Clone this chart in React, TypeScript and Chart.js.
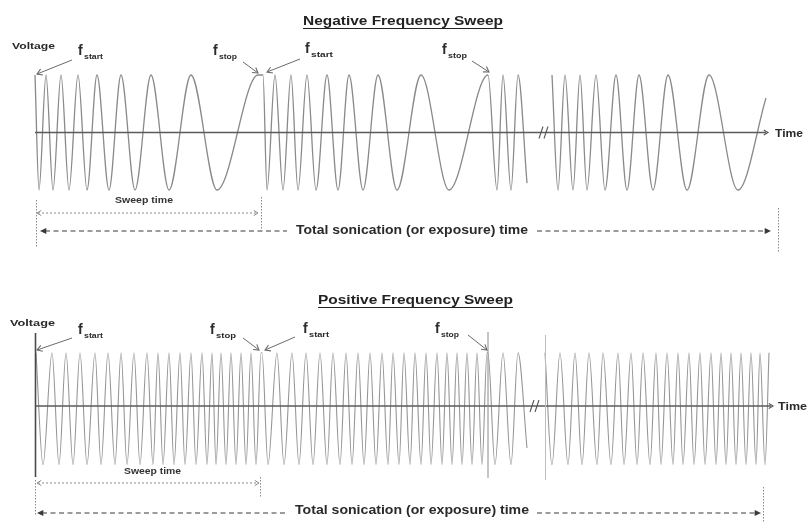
import React, { useEffect, useRef } from "react";
import { Chart, registerables } from "chart.js";
Chart.register(...registerables);

// ---------- DATA (times of successive extrema; each sweep starts with a peak) ----------
// Negative frequency sweep (top panel)
const negSweep1 = [35, 39, 46, 53, 61, 69, 78, 87, 97, 109, 121, 135, 151, 169, 191, 217, 258];
const negSweep2 = [263, 267, 275, 283, 291, 298, 307, 316, 327, 338, 349, 363, 378, 397, 421, 449, 488];
const negSweep3 = [488, 497, 503, 511, 518, 527];
const negSweep4 = [552, 558, 565, 573, 580, 587, 596, 605, 616, 627, 639, 653, 668, 687, 709, 738, 766];
const negPeak = 1;
const negTrough = -1;
const negSweep3End = -0.88; // partial trough where the first break starts
const negSweep4End = 0.6; // last rising edge ends before a full peak

// Positive frequency sweep (bottom panel)
const posSweep1 = [36, 43, 52, 59, 66, 73, 80, 87, 95, 101, 108, 115, 121, 127, 134, 140, 147, 153, 158, 163, 169, 174, 180, 185, 191, 196, 202, 207, 212, 216, 221, 226, 231, 236, 241, 246, 251, 256, 261];
const posSweep2 = [262, 268, 277, 284, 292, 299, 306, 313, 320, 327, 333, 340, 346, 352, 358, 364, 370, 376, 382, 388, 393, 399, 404, 410, 415, 421, 426, 431, 437, 442, 447, 452, 457, 462, 467, 472, 477, 482, 487];
const posSweep3 = [488, 495, 503, 511, 518, 527];
const posSweep4 = [545, 552, 560, 568, 575, 582, 589, 597, 603, 611, 618, 624, 631, 637, 643, 650, 656, 661, 667, 673, 678, 683, 689, 694, 700, 705, 711, 716, 721, 726, 731, 736, 741, 746, 751, 756, 760, 765, 769];
const posPeak = 0.95;
const posTrough = -1.05;
const posSweep3End = -0.75;

// Texts
const titleNeg = "Negative Frequency Sweep";
const titlePos = "Positive Frequency Sweep";
const totalLabel = "Total sonication (or exposure) time";
const sweepLabel = "Sweep time";
const voltageLabel = "Voltage";
const timeLabel = "Time";

// ---------- helpers ----------
type Pt = { x: number; y: number };

function sweepPoints(times: number[], peak: number, trough: number, endLevel?: number): Pt[] {
  return times.map((t, i) => ({
    x: t,
    y: i === times.length - 1 && endLevel !== undefined ? endLevel : i % 2 === 0 ? peak : trough,
  }));
}

function joinSweeps(...parts: Pt[][]): Pt[] {
  const out: Pt[] = [];
  parts.forEach((p) =>
    p.forEach((pt) => {
      if (out.length && out[out.length - 1].x === pt.x) return;
      out.push(pt);
    })
  );
  return out;
}

const FONT = "'Liberation Sans', Arial, sans-serif";
const W = 807;
const H = 527;

function fitText(
  ctx: CanvasRenderingContext2D,
  text: string,
  left: number,
  base: number,
  width: number,
  size: number,
  color = "#2a2a2a",
  weight = "bold"
) {
  ctx.save();
  ctx.font = `${weight} ${size}px ${FONT}`;
  ctx.fillStyle = color;
  ctx.textAlign = "left";
  ctx.textBaseline = "alphabetic";
  const m = ctx.measureText(text).width;
  ctx.translate(left, base);
  ctx.scale(width / m, 1);
  ctx.fillText(text, 0, 0);
  ctx.restore();
}

function seg(
  ctx: CanvasRenderingContext2D,
  x1: number,
  y1: number,
  x2: number,
  y2: number,
  color: string,
  width: number,
  dash: number[] = []
) {
  ctx.save();
  ctx.strokeStyle = color;
  ctx.lineWidth = width;
  ctx.setLineDash(dash);
  ctx.beginPath();
  ctx.moveTo(x1, y1);
  ctx.lineTo(x2, y2);
  ctx.stroke();
  ctx.restore();
}

function chevron(
  ctx: CanvasRenderingContext2D,
  tx: number,
  ty: number,
  fx: number,
  fy: number,
  size: number,
  color: string,
  width: number
) {
  const a = Math.atan2(ty - fy, tx - fx);
  ctx.save();
  ctx.strokeStyle = color;
  ctx.lineWidth = width;
  ctx.setLineDash([]);
  ctx.beginPath();
  ctx.moveTo(tx - size * Math.cos(a - 0.55), ty - size * Math.sin(a - 0.55));
  ctx.lineTo(tx, ty);
  ctx.lineTo(tx - size * Math.cos(a + 0.55), ty - size * Math.sin(a + 0.55));
  ctx.stroke();
  ctx.restore();
}

function triangle(
  ctx: CanvasRenderingContext2D,
  tx: number,
  ty: number,
  fx: number,
  fy: number,
  size: number,
  color: string
) {
  const a = Math.atan2(ty - fy, tx - fx);
  ctx.save();
  ctx.fillStyle = color;
  ctx.beginPath();
  ctx.moveTo(tx, ty);
  ctx.lineTo(tx - size * Math.cos(a - 0.45), ty - size * Math.sin(a - 0.45));
  ctx.lineTo(tx - size * Math.cos(a + 0.45), ty - size * Math.sin(a + 0.45));
  ctx.closePath();
  ctx.fill();
  ctx.restore();
}

function fLabel(ctx: CanvasRenderingContext2D, x: number, base: number, sub: string, subW: number) {
  ctx.save();
  ctx.font = `bold 14px ${FONT}`;
  ctx.fillStyle = "#2a2a2a";
  ctx.textAlign = "left";
  ctx.fillText("f", x, base);
  ctx.restore();
  fitText(ctx, sub, x + 6, base + 4, subW, 8);
}

function labelArrow(ctx: CanvasRenderingContext2D, x1: number, y1: number, x2: number, y2: number) {
  seg(ctx, x1, y1, x2, y2, "#6a6a6a", 1);
  chevron(ctx, x2, y2, x1, y1, 6, "#6a6a6a", 1.1);
}

function breakMark(ctx: CanvasRenderingContext2D, x: number, y: number) {
  seg(ctx, x - 4, y + 6, x, y - 6, "#555", 1.1);
  seg(ctx, x + 1, y + 6, x + 5, y - 6, "#555", 1.1);
}

const annotations = {
  id: "diagramAnnotations",
  afterDatasetsDraw(chart: any) {
    const ctx: CanvasRenderingContext2D = chart.ctx;
    const xs = chart.scales.x;
    const px = (t: number) => xs.getPixelForValue(t);
    const y0t = chart.scales.yTop.getPixelForValue(0);
    const y0b = chart.scales.yBot.getPixelForValue(0);
    const axisC = "#5a5a5a";
    const dotC = "#8a8a8a";
    const dashC = "#3a3a3a";

    // ---------------- TOP PANEL ----------------
    fitText(ctx, titleNeg, 303, 25, 200, 12.5, "#222");
    seg(ctx, 303, 28.5, 503, 28.5, "#222", 1.2);
    fitText(ctx, voltageLabel, 12, 49, 43, 9.5);

    // time axis
    seg(ctx, px(35), y0t, px(766), y0t, axisC, 1.5);
    chevron(ctx, px(768), y0t, px(700), y0t, 5, axisC, 1.2);
    fitText(ctx, timeLabel, 775, y0t + 4, 28, 11);
    breakMark(ctx, 543, y0t);

    // f labels
    fLabel(ctx, 78, 55, "start", 19);
    fLabel(ctx, 213, 55, "stop", 18);
    fLabel(ctx, 305, 53, "start", 22);
    fLabel(ctx, 442, 54, "stop", 19);
    labelArrow(ctx, 72, 60, 37, 74);
    labelArrow(ctx, 243, 62, 258, 73);
    labelArrow(ctx, 300, 59, 267, 72);
    labelArrow(ctx, 472, 61, 489, 72);

    // sweep time
    fitText(ctx, sweepLabel, 115, 203, 58, 8.5, "#333");
    seg(ctx, 38, 213, 257, 213, dotC, 1, [2, 2]);
    chevron(ctx, 37, 213, 60, 213, 5, dotC, 1);
    chevron(ctx, 258, 213, 230, 213, 5, dotC, 1);
    seg(ctx, 36.5, 200, 36.5, 248, dotC, 1, [1.5, 1.5]);
    seg(ctx, 261.5, 197, 261.5, 230, dotC, 1, [1.5, 1.5]);
    seg(ctx, 778.5, 208, 778.5, 253, dotC, 1, [1.5, 1.5]);

    // total time
    seg(ctx, 45, 231, 287, 231, dashC, 1.2, [5, 3.5]);
    seg(ctx, 537, 231, 766, 231, dashC, 1.2, [5, 3.5]);
    triangle(ctx, 40, 231, 60, 231, 7, dashC);
    triangle(ctx, 771, 231, 740, 231, 7, dashC);
    fitText(ctx, totalLabel, 296, 234, 232, 13.5);

    // ---------------- BOTTOM PANEL ----------------
    fitText(ctx, titlePos, 318, 304, 195, 12.5, "#222");
    seg(ctx, 318, 307.5, 513, 307.5, "#222", 1.2);
    fitText(ctx, voltageLabel, 10, 326, 45, 9.5);

    seg(ctx, px(35), y0b, px(771), y0b, axisC, 1.5);
    chevron(ctx, px(773), y0b, px(700), y0b, 5, axisC, 1.2);
    fitText(ctx, timeLabel, 778, y0b + 4, 29, 11);
    breakMark(ctx, 534, y0b);

    // vertical lines
    seg(ctx, 35.5, 333, 35.5, 477, "#4a4a4a", 1.6);
    seg(ctx, 488, 332, 488, 478, "#8a8a8a", 1);
    seg(ctx, 545.5, 335, 545.5, 480, "#bdbdbd", 1);

    fLabel(ctx, 78, 334, "start", 19);
    fLabel(ctx, 210, 334, "stop", 20);
    fLabel(ctx, 303, 333, "start", 20);
    fLabel(ctx, 435, 333, "stop", 18);
    labelArrow(ctx, 72, 338, 37, 350);
    labelArrow(ctx, 243, 338, 259, 350);
    labelArrow(ctx, 295, 337, 265, 350);
    labelArrow(ctx, 468, 335, 487, 350);

    fitText(ctx, sweepLabel, 124, 474, 57, 8.5, "#333");
    seg(ctx, 38, 483, 258, 483, dotC, 1, [2, 2]);
    chevron(ctx, 37, 483, 60, 483, 5, dotC, 1);
    chevron(ctx, 259, 483, 230, 483, 5, dotC, 1);
    seg(ctx, 35.5, 480, 35.5, 515, dotC, 1, [1.5, 1.5]);
    seg(ctx, 260.5, 477, 260.5, 498, dotC, 1, [1.5, 1.5]);
    seg(ctx, 763.5, 487, 763.5, 523, dotC, 1, [1.5, 1.5]);

    seg(ctx, 42, 513, 287, 513, dashC, 1.2, [5, 3.5]);
    seg(ctx, 537, 513, 756, 513, dashC, 1.2, [5, 3.5]);
    triangle(ctx, 37, 513, 60, 513, 7, dashC);
    triangle(ctx, 761, 513, 730, 513, 7, dashC);
    fitText(ctx, totalLabel, 295, 514, 234, 13.5);
  },
};

export default function App() {
  const ref = useRef<HTMLCanvasElement | null>(null);

  useEffect(() => {
    if (!ref.current) return;
    // layout: amplitude in pixels and axis position for each panel
    const topAxisPx = 132.5;
    const topUnitPx = 57.5;
    const botAxisPx = 406;
    const botUnitPx = 56;

    const waveStyle = (color: string, width: number, axis: string) => ({
      borderColor: color,
      borderWidth: width,
      pointRadius: 0,
      fill: false,
      cubicInterpolationMode: "monotone" as const,
      yAxisID: axis,
    });

    const topColor = "#8a8a8a";
    const botColor = "#969696";

    const datasets: any[] = [
      {
        data: joinSweeps(
          sweepPoints(negSweep1, negPeak, negTrough),
          sweepPoints(negSweep2, negPeak, negTrough),
          sweepPoints(negSweep3, negPeak, negTrough, negSweep3End)
        ),
        ...waveStyle(topColor, 1.3, "yTop"),
      },
      { data: sweepPoints(negSweep4, negPeak, negTrough, negSweep4End), ...waveStyle(topColor, 1.3, "yTop") },
      {
        data: joinSweeps(
          sweepPoints(posSweep1, posPeak, posTrough),
          sweepPoints(posSweep2, posPeak, posTrough),
          sweepPoints(posSweep3, posPeak, posTrough, posSweep3End)
        ),
        ...waveStyle(botColor, 1.1, "yBot"),
      },
      { data: sweepPoints(posSweep4, posPeak, posTrough), ...waveStyle(botColor, 1.1, "yBot") },
    ];

    const chart = new Chart(ref.current, {
      type: "line",
      data: { datasets },
      options: {
        animation: false,
        responsive: false,
        devicePixelRatio: 1,
        events: [],
        layout: { padding: 0 },
        plugins: { legend: { display: false }, tooltip: { enabled: false }, title: { display: false } },
        scales: {
          x: { type: "linear", min: 0, max: W, display: false },
          yTop: {
            type: "linear",
            display: false,
            max: topAxisPx / topUnitPx,
            min: topAxisPx / topUnitPx - H / topUnitPx,
          },
          yBot: {
            type: "linear",
            display: false,
            max: botAxisPx / botUnitPx,
            min: botAxisPx / botUnitPx - H / botUnitPx,
          },
        },
      } as any,
      plugins: [annotations],
    });
    return () => chart.destroy();
  }, []);

  return (
    <div style={{ position: "absolute", left: 0, top: 0, width: W, height: H, background: "#fff" }}>
      <canvas ref={ref} width={W} height={H} style={{ width: W, height: H, display: "block" }} />
    </div>
  );
}
